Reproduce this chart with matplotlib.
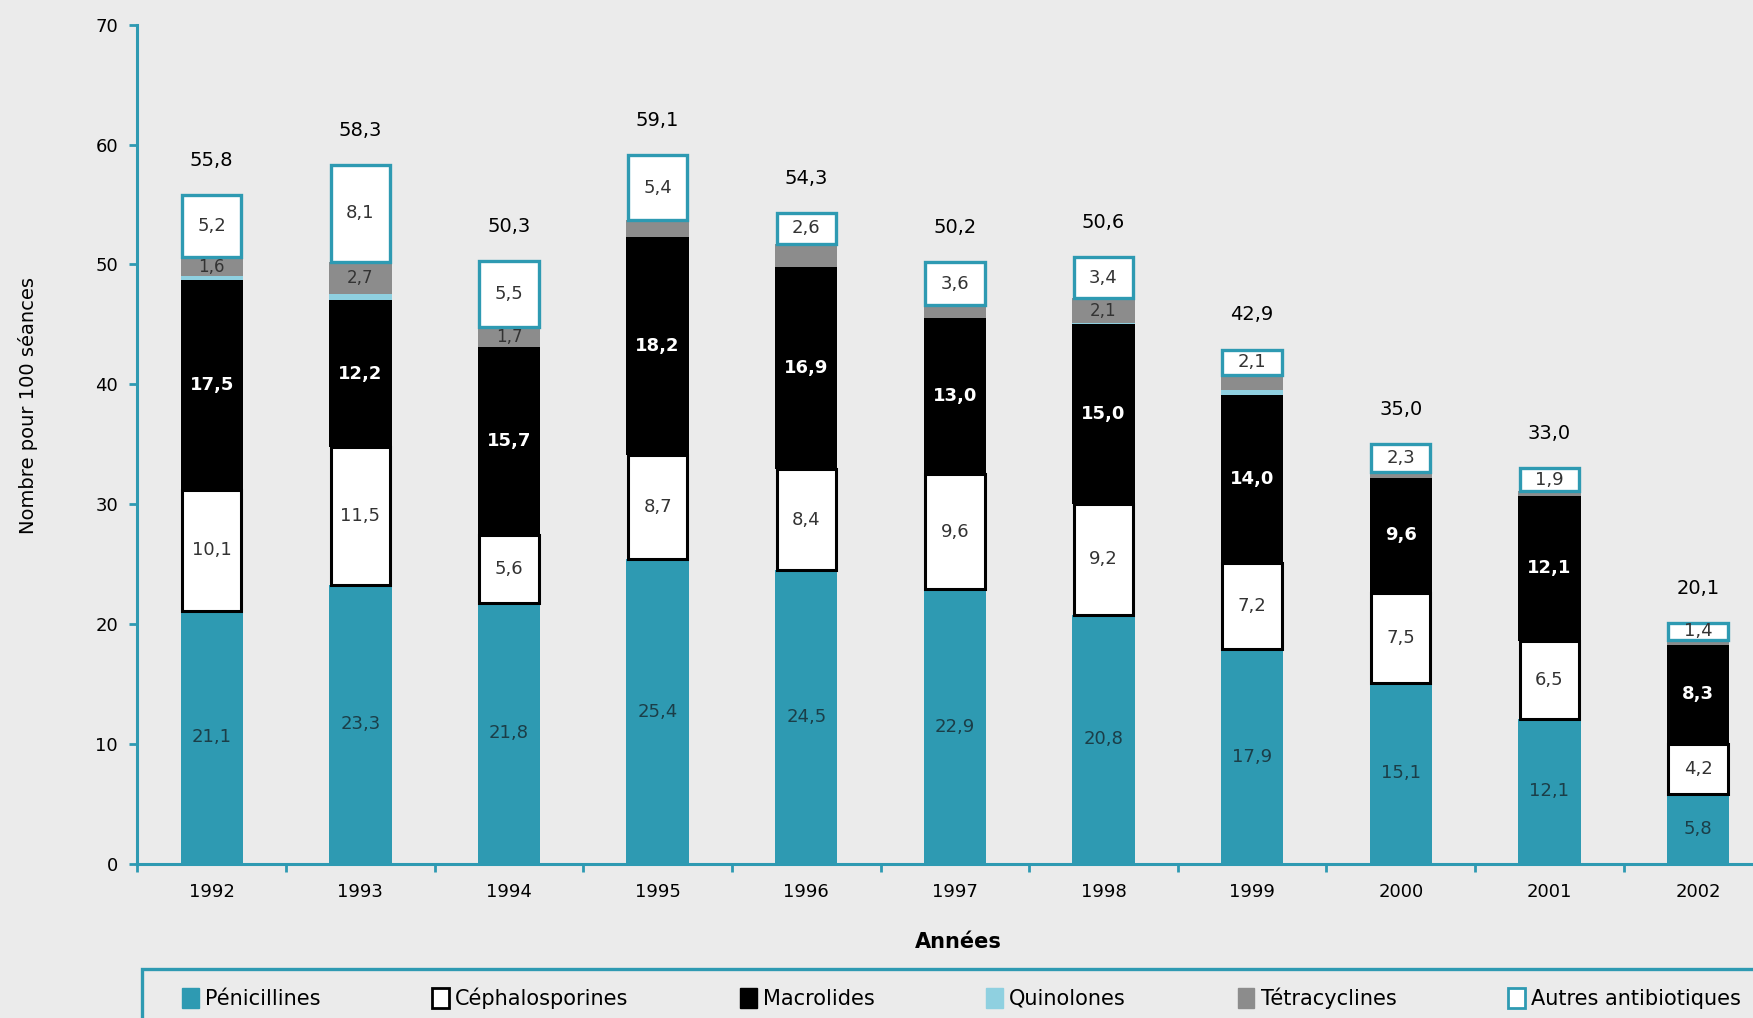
import numpy as np
import matplotlib
matplotlib.use("Agg")
import matplotlib.pyplot as plt
from matplotlib.patches import Patch, Rectangle

plt.rcParams['font.family'] = ['DejaVu Sans']

# données (nombre pour 100 séances)
annees = ['1992', '1993', '1994', '1995', '1996', '1997', '1998', '1999', '2000', '2001', '2002']
penicillines = [21.1, 23.3, 21.8, 25.4, 24.5, 22.9, 20.8, 17.9, 15.1, 12.1, 5.8]
cephalosporines = [10.1, 11.5, 5.6, 8.7, 8.4, 9.6, 9.2, 7.2, 7.5, 6.5, 4.2]
macrolides = [17.5, 12.2, 15.7, 18.2, 16.9, 13.0, 15.0, 14.0, 9.6, 12.1, 8.3]
quinolones = [0.3, 0.5, 0.0, 0.0, 0.0, 0.0, 0.1, 0.4, 0.0, 0.0, 0.0]
tetracyclines = [1.6, 2.7, 1.7, 1.4, 1.9, 1.1, 2.1, 1.3, 0.5, 0.4, 0.4]
autres = [5.2, 8.1, 5.5, 5.4, 2.6, 3.6, 3.4, 2.1, 2.3, 1.9, 1.4]
totaux = [55.8, 58.3, 50.3, 59.1, 54.3, 50.2, 50.6, 42.9, 35.0, 33.0, 20.1]
tet_affiche = [True, True, True, False, False, False, True, False, False, False, False]

TEAL = '#2E9AB2'
QUIN = '#8FD0E0'
TET = '#8C8C8C'
FOND = '#EBEBEB'

def fr(v):
    return f"{v:.1f}".replace('.', ',')

fig = plt.figure(figsize=(17.53, 10.18), dpi=100, facecolor=FOND)
ax = fig.add_axes([0.0784, 0.1513, 0.9216, 0.8245], facecolor=FOND)

x = np.arange(len(annees))
w = 0.42
b0 = np.zeros(len(annees))

ax.bar(x, penicillines, w, bottom=b0, color=TEAL, zorder=2)
b1 = b0 + np.array(penicillines)
ax.bar(x, cephalosporines, w - 0.02, bottom=b1, color='white', edgecolor='black', linewidth=2.2, zorder=2)
b2 = b1 + np.array(cephalosporines)
ax.bar(x, macrolides, w, bottom=b2, color='black', zorder=3)
b3 = b2 + np.array(macrolides)
ax.bar(x, quinolones, w, bottom=b3, color=QUIN, zorder=2)
b4 = b3 + np.array(quinolones)
ax.bar(x, tetracyclines, w, bottom=b4, color=TET, zorder=2)
b5 = b4 + np.array(tetracyclines)
ax.bar(x, autres, w - 0.02, bottom=b5, color='white', edgecolor=TEAL, linewidth=2.4, zorder=4)

for i in range(len(annees)):
    ax.text(x[i], penicillines[i] / 2, fr(penicillines[i]), ha='center', va='center',
            fontsize=13, color='#1B3E48', zorder=5)
    ax.text(x[i], b1[i] + cephalosporines[i] / 2, fr(cephalosporines[i]), ha='center', va='center',
            fontsize=13, color='#333333', zorder=5)
    ax.text(x[i], b2[i] + macrolides[i] / 2, fr(macrolides[i]), ha='center', va='center',
            fontsize=13, color='white', fontweight='bold', zorder=5)
    if tet_affiche[i]:
        ax.text(x[i], b4[i] + tetracyclines[i] / 2, fr(tetracyclines[i]), ha='center', va='center',
                fontsize=12, color='#333333', zorder=5)
    ax.text(x[i], b5[i] + autres[i] / 2, fr(autres[i]), ha='center', va='center',
            fontsize=13, color='#333333', zorder=5)
    ax.text(x[i], totaux[i] + 2.9, fr(totaux[i]), ha='center', va='center',
            fontsize=14, color='black', zorder=5)

ax.set_yticks(range(0, 71, 10))
ax.set_xticks(x)
ax.set_xticklabels(annees)
ax.set_xticks(np.arange(-0.5, 10.6, 1.0), minor=True)
ax.set_xlim(-0.5, 10.37)
ax.set_ylim(0, 70)

for s in ['top', 'right']:
    ax.spines[s].set_visible(False)
for s in ['left', 'bottom']:
    ax.spines[s].set_color(TEAL)
    ax.spines[s].set_linewidth(2.2)

ax.tick_params(axis='y', colors=TEAL, labelcolor='black', labelsize=13, length=6, width=2, pad=8)
ax.tick_params(axis='x', which='major', length=0, labelsize=13, pad=14)
ax.tick_params(axis='x', which='minor', colors=TEAL, length=6, width=2)

fig.text(28 / 1753, 1 - 405 / 1018, 'Nombre pour 100 séances', rotation=90,
         ha='center', va='center', fontsize=14)
fig.text(958 / 1753, 1 - 942 / 1018, 'Années', ha='center', va='center',
         fontsize=15, fontweight='bold')

# cadre de la légende (déborde en bas et à droite comme sur l'original)
fig.patches.append(Rectangle((0.081, -0.05), 0.95, 0.0981, transform=fig.transFigure,
                             fill=True, facecolor=FOND, edgecolor=TEAL, linewidth=2.4))

handles = [
    Patch(facecolor=TEAL, edgecolor=TEAL, label='Pénicillines'),
    Patch(facecolor='white', edgecolor='black', linewidth=2, label='Céphalosporines'),
    Patch(facecolor='black', edgecolor='black', label='Macrolides'),
    Patch(facecolor=QUIN, edgecolor=QUIN, label='Quinolones'),
    Patch(facecolor=TET, edgecolor=TET, label='Tétracyclines'),
    Patch(facecolor='white', edgecolor=TEAL, linewidth=2, label='Autres antibiotiques'),
]
fig.legend(handles=handles, loc='center left', bbox_to_anchor=(0.104, 0.0196, 0.889, 0),
           mode='expand', ncol=6, fontsize=15, frameon=False,
           borderpad=0, borderaxespad=0, handlelength=0.8, handleheight=1.1,
           handletextpad=0.3)

fig.savefig('out.png', dpi=100, facecolor=FOND)
